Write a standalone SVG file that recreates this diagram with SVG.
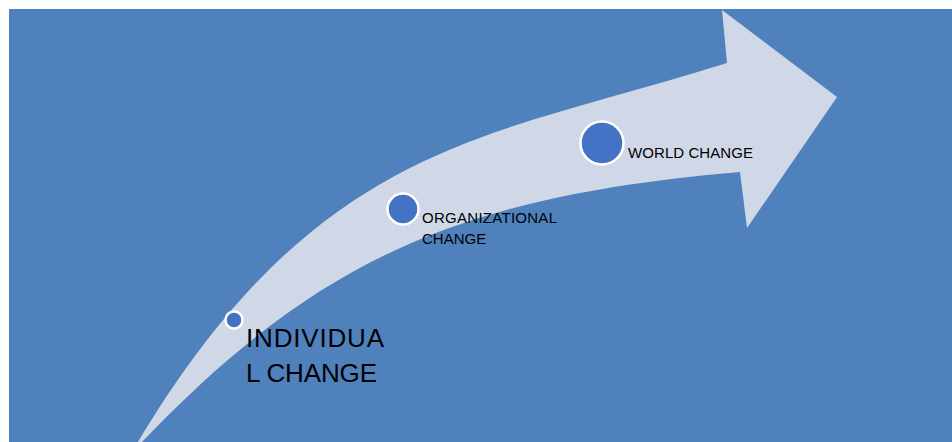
<svg xmlns="http://www.w3.org/2000/svg" width="952" height="442" viewBox="0 0 952 442">
  <style>
    .panel { fill: #4F81BD; }
    .arrow { fill: #D0D8E8; }
    .dot { fill: #4472C4; stroke: #FFFFFF; stroke-width: 2.5; }
    .label { font-family: "Liberation Sans", Arial, sans-serif; fill: #000000; }
    .small { font-size: 15px; }
    .big { font-size: 26px; }
  </style>
  <rect class="panel" x="9" y="9" width="943" height="433"/>
  <g id="connectors">
    <!-- curved rising arrow: outer edge, head, inner edge back to the tail point -->
    <path id="growth-arrow" class="arrow"
      d="M136,446 L138,442 C320,138 492,138 727,63 L722,10 L837,97 L747,228 L740,172 C461,196 318,258 142,442 L140,446 Z"/>
  </g>
  <g id="individual">
    <circle class="dot" cx="234" cy="320" r="8.5"/>
    <text class="label big" x="246" y="347" textLength="138">INDIVIDUA</text>
    <text class="label big" x="246" y="382" textLength="131">L CHANGE</text>
  </g>
  <g id="organizational">
    <circle class="dot" cx="403" cy="209" r="15.5"/>
    <text class="label small" x="422" y="223" textLength="135">ORGANIZATIONAL</text>
    <text class="label small" x="422" y="244">CHANGE</text>
  </g>
  <g id="world">
    <circle class="dot" cx="602" cy="143" r="21.5"/>
    <text class="label small" x="628" y="158" textLength="125">WORLD CHANGE</text>
  </g>
</svg>
